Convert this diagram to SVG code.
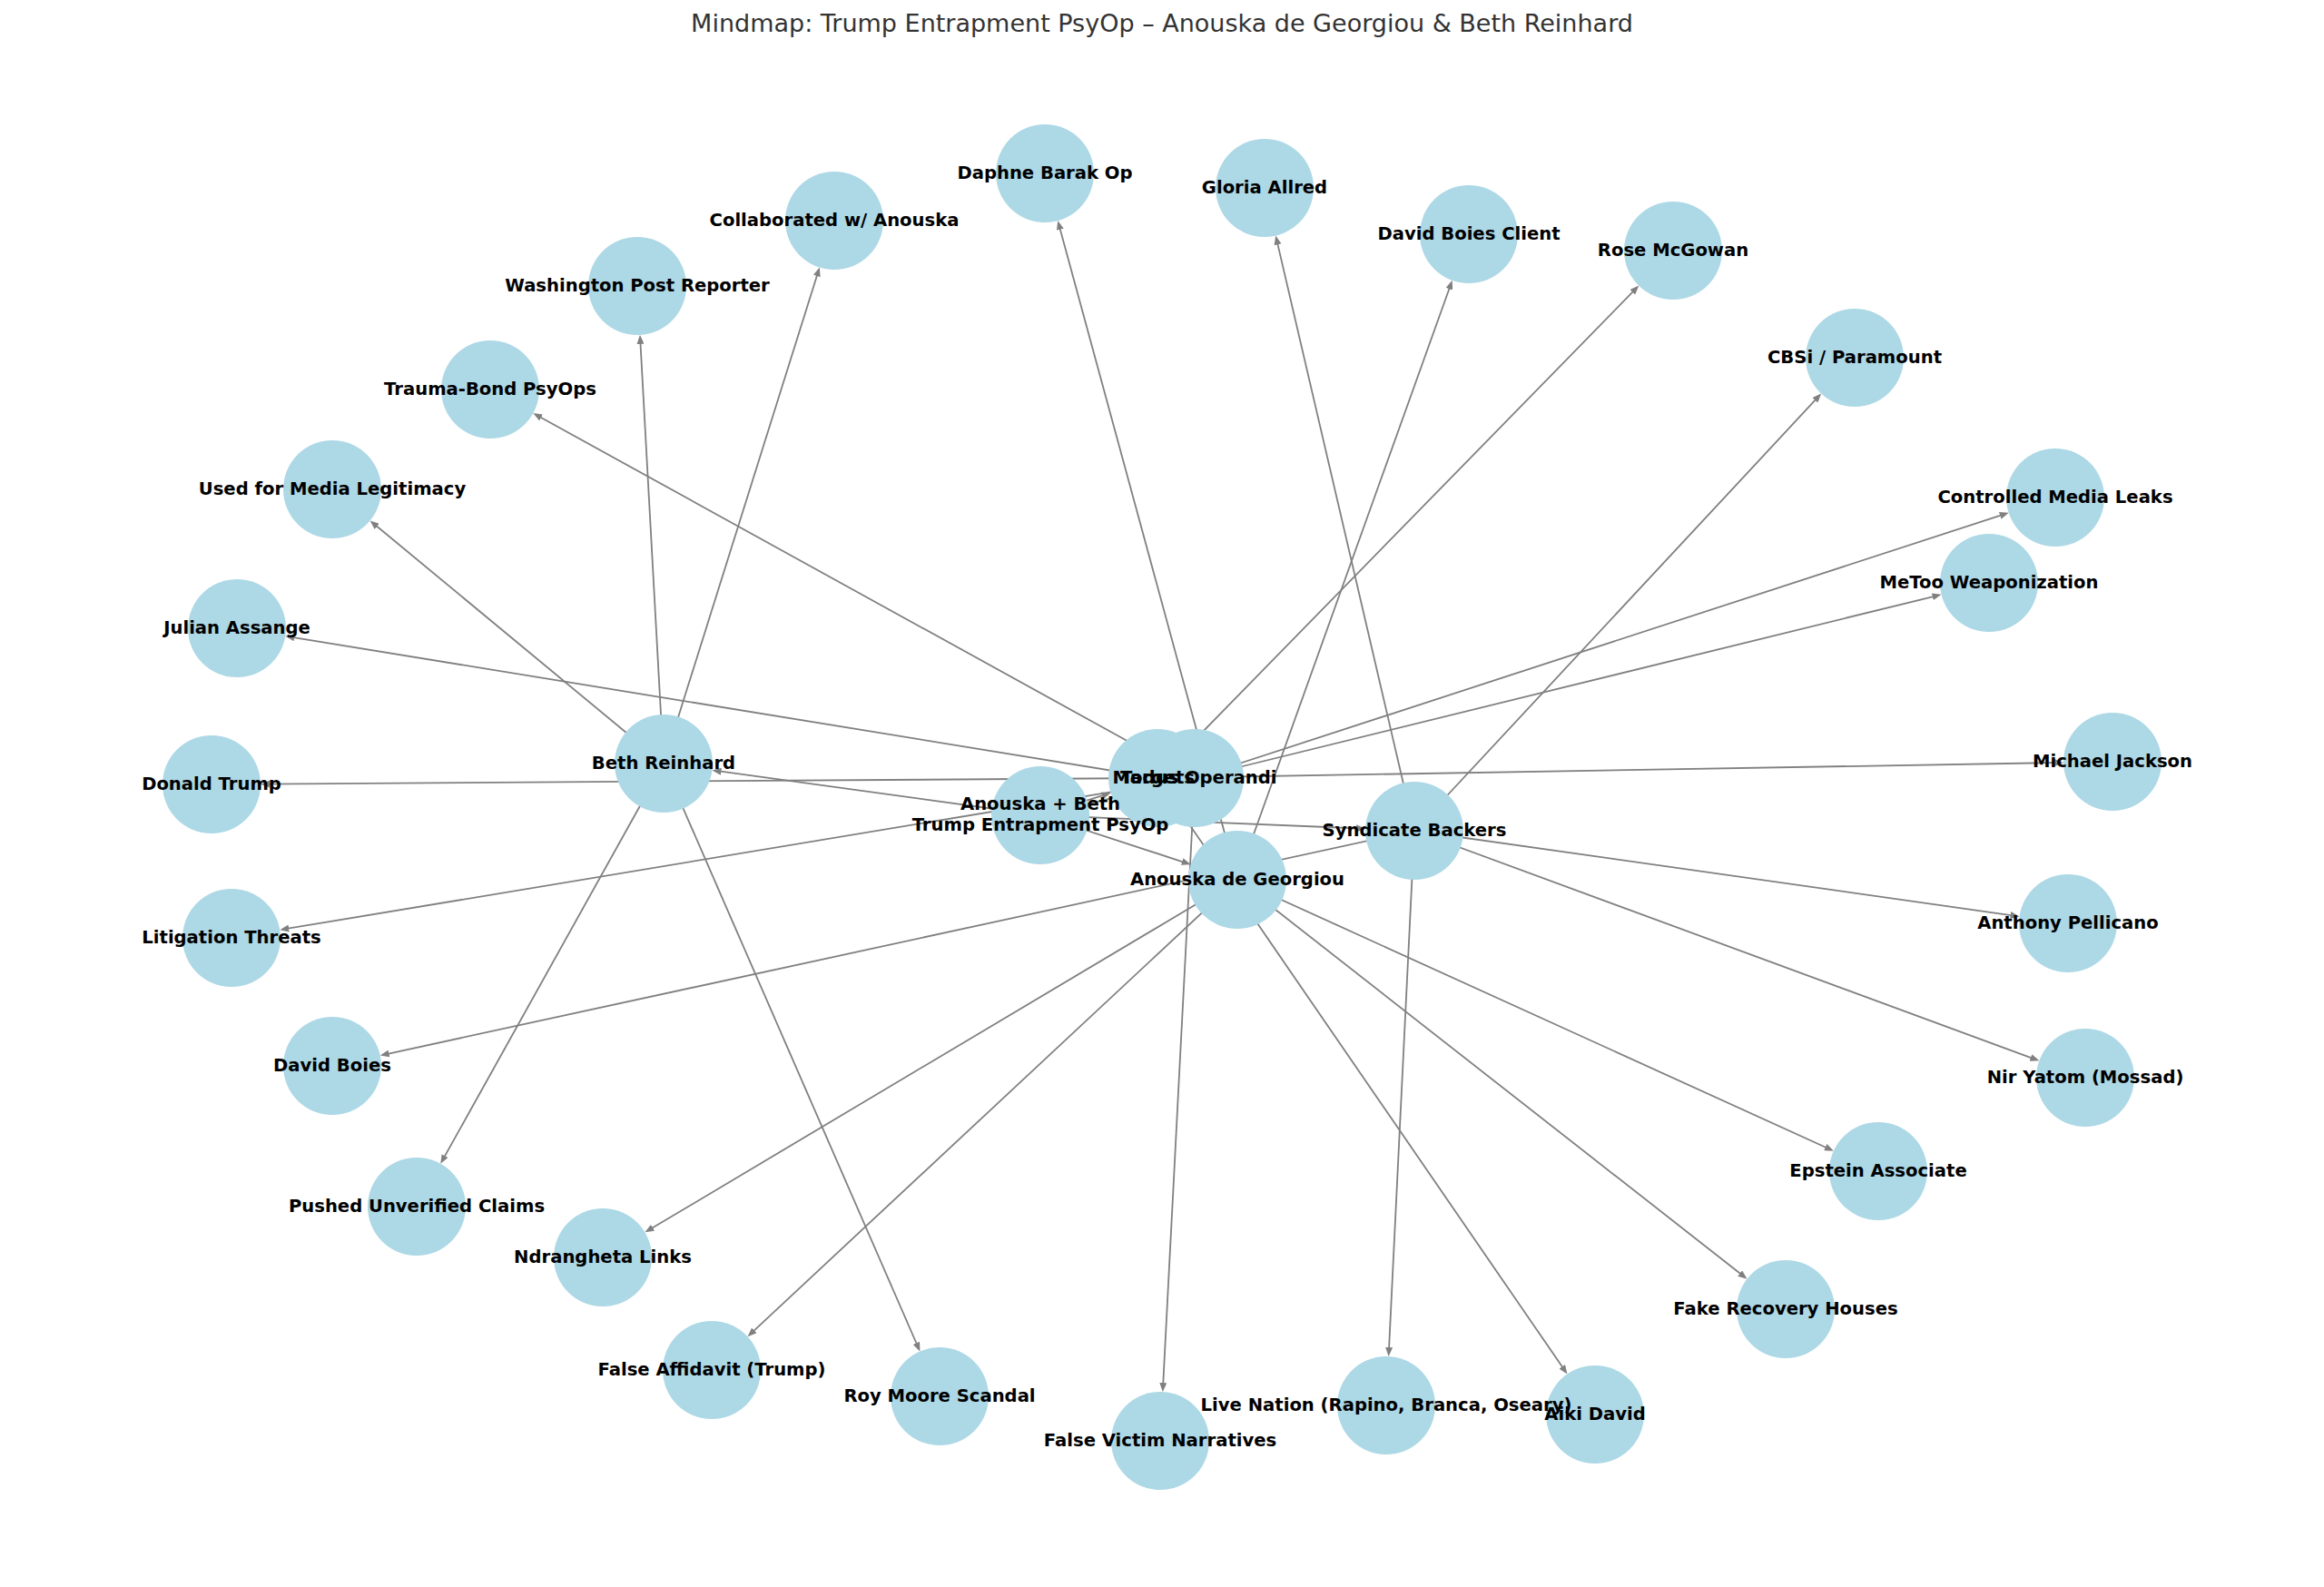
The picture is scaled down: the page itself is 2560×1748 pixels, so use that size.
<svg xmlns="http://www.w3.org/2000/svg" width="2560" height="1748" viewBox="0 0 2560 1748">
<defs>
<style>
.edge{stroke:#808080;stroke-width:1.8;fill:none;marker-end:url(#arrow)}
.node circle{fill:#ADD8E6;stroke:none}
.node text{font-family:"DejaVu Sans","Liberation Sans",sans-serif;font-weight:bold;font-size:19.6px;fill:#000;text-anchor:middle}
.title{font-family:"DejaVu Sans","Liberation Sans",sans-serif;font-size:27px;fill:#333;text-anchor:middle}
</style>
<marker id="arrow" markerUnits="userSpaceOnUse" markerWidth="10" markerHeight="8" refX="4" refY="4" orient="auto">
<path d="M0,0 L10,4 L0,8 z" fill="#808080"/>
</marker>
</defs>
<rect width="2560" height="1748" fill="#fff"/>
<text class="title" x="1280" y="35">Mindmap: Trump Entrapment PsyOp – Anouska de Georgiou &amp; Beth Reinhard</text>
<g id="edges">
<line class="edge" x1="1146" y1="898" x2="1306.0" y2="950.3"/>
<line class="edge" x1="1146" y1="898" x2="790.4" y2="849.2"/>
<line class="edge" x1="1146" y1="898" x2="1498.1" y2="912.5"/>
<line class="edge" x1="1146" y1="898" x2="1257.7" y2="871.1"/>
<line class="edge" x1="1146" y1="898" x2="1217.8" y2="875.2"/>
<line class="edge" x1="1363" y1="969" x2="1597.7" y2="314.5"/>
<line class="edge" x1="1363" y1="969" x2="1166.8" y2="248.9"/>
<line class="edge" x1="1363" y1="969" x2="715.6" y2="1354.3"/>
<line class="edge" x1="1363" y1="969" x2="827.9" y2="1468.1"/>
<line class="edge" x1="1363" y1="969" x2="2014.4" y2="1265.2"/>
<line class="edge" x1="1363" y1="969" x2="1919.8" y2="1405.0"/>
<line class="edge" x1="731" y1="841" x2="705.3" y2="374.9"/>
<line class="edge" x1="731" y1="841" x2="901.0" y2="300.2"/>
<line class="edge" x1="731" y1="841" x2="412.2" y2="577.3"/>
<line class="edge" x1="731" y1="841" x2="488.2" y2="1276.6"/>
<line class="edge" x1="731" y1="841" x2="1011.0" y2="1483.0"/>
<line class="edge" x1="1558" y1="915" x2="424.6" y2="1161.3"/>
<line class="edge" x1="1558" y1="915" x2="1406.6" y2="265.4"/>
<line class="edge" x1="1558" y1="915" x2="1529.9" y2="1488.1"/>
<line class="edge" x1="1558" y1="915" x2="2002.1" y2="437.9"/>
<line class="edge" x1="1558" y1="915" x2="2218.6" y2="1008.6"/>
<line class="edge" x1="1558" y1="915" x2="2240.7" y2="1166.3"/>
<line class="edge" x1="1316" y1="857" x2="592.5" y2="458.0"/>
<line class="edge" x1="1316" y1="857" x2="2207.0" y2="566.6"/>
<line class="edge" x1="1316" y1="857" x2="2132.7" y2="656.3"/>
<line class="edge" x1="1316" y1="857" x2="1281.1" y2="1527.1"/>
<line class="edge" x1="1316" y1="857" x2="314.2" y2="1023.2"/>
<line class="edge" x1="1275" y1="857" x2="293" y2="863.6"/>
<line class="edge" x1="1275" y1="857" x2="2267" y2="840.0"/>
<line class="edge" x1="1275" y1="857" x2="320.2" y2="701.6"/>
<line class="edge" x1="1275" y1="857" x2="1801.1" y2="318.9"/>
<line class="edge" x1="1275" y1="857" x2="1723.0" y2="1508.6"/>
</g>
<g id="nodes">
<g id="node-daphne-barak-op" class="node"><circle cx="1151" cy="191" r="54"/><text x="1151" y="196.5">Daphne Barak Op</text></g>
<g id="node-gloria-allred" class="node"><circle cx="1393" cy="207" r="54"/><text x="1393" y="212.5">Gloria Allred</text></g>
<g id="node-collaborated" class="node"><circle cx="919" cy="243" r="54"/><text x="919" y="248.5">Collaborated w/ Anouska</text></g>
<g id="node-david-boies-client" class="node"><circle cx="1618" cy="258" r="54"/><text x="1618" y="263.5">David Boies Client</text></g>
<g id="node-rose-mcgowan" class="node"><circle cx="1843" cy="276" r="54"/><text x="1843" y="281.5">Rose McGowan</text></g>
<g id="node-washington-post" class="node"><circle cx="702" cy="315" r="54"/><text x="702" y="320.5">Washington Post Reporter</text></g>
<g id="node-cbsi-paramount" class="node"><circle cx="2043" cy="394" r="54"/><text x="2043" y="399.5">CBSi / Paramount</text></g>
<g id="node-trauma-bond" class="node"><circle cx="540" cy="429" r="54"/><text x="540" y="434.5">Trauma-Bond PsyOps</text></g>
<g id="node-media-legitimacy" class="node"><circle cx="366" cy="539" r="54"/><text x="366" y="544.5">Used for Media Legitimacy</text></g>
<g id="node-controlled-leaks" class="node"><circle cx="2264" cy="548" r="54"/><text x="2264" y="553.5">Controlled Media Leaks</text></g>
<g id="node-metoo" class="node"><circle cx="2191" cy="642" r="54"/><text x="2191" y="647.5">MeToo Weaponization</text></g>
<g id="node-julian-assange" class="node"><circle cx="261" cy="692" r="54"/><text x="261" y="697.5">Julian Assange</text></g>
<g id="node-michael-jackson" class="node"><circle cx="2327" cy="839" r="54"/><text x="2327" y="844.5">Michael Jackson</text></g>
<g id="node-donald-trump" class="node"><circle cx="233" cy="864" r="54"/><text x="233" y="869.5">Donald Trump</text></g>
<g id="node-litigation-threats" class="node"><circle cx="255" cy="1033" r="54"/><text x="255" y="1038.5">Litigation Threats</text></g>
<g id="node-anthony-pellicano" class="node"><circle cx="2278" cy="1017" r="54"/><text x="2278" y="1022.5">Anthony Pellicano</text></g>
<g id="node-nir-yatom" class="node"><circle cx="2297" cy="1187" r="54"/><text x="2297" y="1192.5">Nir Yatom (Mossad)</text></g>
<g id="node-david-boies" class="node"><circle cx="366" cy="1174" r="54"/><text x="366" y="1179.5">David Boies</text></g>
<g id="node-epstein-associate" class="node"><circle cx="2069" cy="1290" r="54"/><text x="2069" y="1295.5">Epstein Associate</text></g>
<g id="node-pushed-claims" class="node"><circle cx="459" cy="1329" r="54"/><text x="459" y="1334.5">Pushed Unverified Claims</text></g>
<g id="node-ndrangheta" class="node"><circle cx="664" cy="1385" r="54"/><text x="664" y="1390.5">Ndrangheta Links</text></g>
<g id="node-fake-recovery" class="node"><circle cx="1967" cy="1442" r="54"/><text x="1967" y="1447.5">Fake Recovery Houses</text></g>
<g id="node-false-affidavit" class="node"><circle cx="784" cy="1509" r="54"/><text x="784" y="1514.5">False Affidavit (Trump)</text></g>
<g id="node-roy-moore" class="node"><circle cx="1035" cy="1538" r="54"/><text x="1035" y="1543.5">Roy Moore Scandal</text></g>
<g id="node-false-victim" class="node"><circle cx="1278" cy="1587" r="54"/><text x="1278" y="1592.5">False Victim Narratives</text></g>
<g id="node-aiki-david" class="node"><circle cx="1757" cy="1558" r="54"/><text x="1757" y="1563.5">Aiki David</text></g>
<g id="node-live-nation" class="node"><circle cx="1527" cy="1548" r="54"/><text x="1527" y="1553.5">Live Nation (Rapino, Branca, Oseary)</text></g>
<g id="node-beth-reinhard" class="node"><circle cx="731" cy="841" r="54"/><text x="731" y="846.5">Beth Reinhard</text></g>
<g id="node-syndicate-backers" class="node"><circle cx="1558" cy="915" r="54"/><text x="1558" y="920.5">Syndicate Backers</text></g>
<g id="node-anouska-de-georgiou" class="node"><circle cx="1363" cy="969" r="54"/><text x="1363" y="974.5">Anouska de Georgiou</text></g>
<g id="node-targets" class="node"><circle cx="1275" cy="857" r="54"/>
<g id="node-modus-operandi" class="node"><circle cx="1316" cy="857" r="54"/><text x="1316" y="862.5">Modus Operandi</text></g>
<text x="1275" y="862.5">Targets</text></g>
<g id="node-anouska-beth" class="node"><circle cx="1146" cy="898" r="54"/><text x="1146" y="891.5">Anouska + Beth</text><text x="1146" y="915">Trump Entrapment PsyOp</text></g>
</g>
</svg>
